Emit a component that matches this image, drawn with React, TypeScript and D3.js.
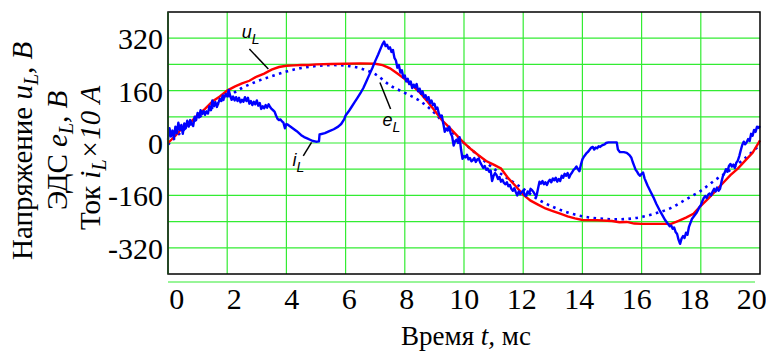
import React from 'react';
import * as d3 from 'd3';

// Time axis, ms
const xTicks = [0, 2, 4, 6, 8, 10, 12, 14, 16, 18, 20];
const yTicks = [-320, -160, 0, 160, 320];
const yGrid = [-320, -240, -160, -80, 0, 80, 160, 240, 320];

// u_L, V (red)
const uTime = [0, 0.25, 0.5, 0.75, 1, 1.25, 1.5, 1.75, 2, 2.25, 2.5, 2.75, 3, 3.25, 3.5, 3.75, 4, 4.25, 4.5, 4.75, 5, 5.5, 6, 6.5, 7, 7.25, 7.5, 7.75, 8, 8.25, 8.5, 8.75, 9, 9.25, 9.5, 9.75, 10, 10.25, 10.5, 10.75, 11, 11.25, 11.5, 11.75, 12, 12.25, 12.5, 12.75, 13, 13.25, 13.5, 13.75, 14, 14.5, 15, 15.25, 15.5, 15.75, 16, 16.5, 17, 17.25, 17.5, 17.75, 18, 18.25, 18.5, 18.75, 19, 19.25, 19.5, 19.75, 20];
const uVal = [0, 22, 48, 62, 85, 104, 127, 142, 160, 172, 182, 190, 203, 212, 224, 232, 236, 237, 238, 238, 240, 241, 242, 243, 242, 238, 228, 212, 195, 176, 155, 128, 100, 70, 48, 24, 0, -20, -38, -55, -66, -78, -108, -132, -158, -176, -188, -200, -208, -216, -224, -230, -235, -236, -238, -242, -241, -246, -247, -247, -247, -238, -228, -216, -192, -170, -146, -122, -98, -78, -54, -30, 8];

// e_L, V (blue dotted)
const eTime = [0, 0.5, 1, 1.5, 2, 2.5, 3, 3.5, 4, 4.5, 5, 5.5, 6, 6.5, 7, 7.5, 8, 8.5, 9, 9.5, 10, 10.5, 11, 11.5, 12, 12.5, 13, 13.5, 14, 14.5, 15, 15.5, 16, 16.5, 17, 17.5, 18, 18.5, 19, 19.5, 20];
const eVal = [-5, 38, 75, 108, 140, 168, 188, 204, 218, 229, 235, 238, 236, 228, 210, 176, 153, 129, 92, 42, 0, -40, -78, -110, -140, -172, -195, -212, -224, -230, -233, -232, -226, -214, -198, -172, -146, -112, -82, -46, -5];

// i_L x10, A (blue)
const iTime = [0, 0.05, 0.1, 0.15, 0.2, 0.25, 0.3, 0.35, 0.4, 0.45, 0.5, 0.55, 0.6, 0.65, 0.7, 0.75, 0.8, 0.85, 0.9, 0.95, 1.0, 1.05, 1.1, 1.15, 1.2, 1.25, 1.3, 1.35, 1.4, 1.45, 1.5, 1.55, 1.6, 1.65, 1.7, 1.75, 1.8, 1.85, 1.9, 1.95, 2.0, 2.05, 2.1, 2.15, 2.2, 2.25, 2.3, 2.35, 2.4, 2.45, 2.5, 2.55, 2.6, 2.65, 2.7, 2.75, 2.8, 2.85, 2.9, 2.95, 3.0, 3.05, 3.1, 3.15, 3.2, 3.25, 3.3, 3.35, 3.4, 3.45, 3.5, 3.55, 3.6, 3.65, 3.7, 3.75, 3.8, 3.85, 3.9, 3.95, 4.0, 4.05, 4.2, 4.35, 4.5, 4.6, 4.7, 4.8, 4.9, 5.0, 5.1, 5.12, 5.3, 5.45, 5.6, 5.75, 5.85, 5.95, 6.0, 6.1, 6.2, 6.3, 6.4, 6.5, 6.6, 6.7, 6.8, 6.9, 7.0, 7.1, 7.2, 7.25, 7.3, 7.35, 7.4, 7.45, 7.5, 7.55, 7.6, 7.65, 7.7, 7.75, 7.8, 7.85, 7.9, 7.95, 8.0, 8.05, 8.1, 8.15, 8.2, 8.25, 8.3, 8.35, 8.4, 8.45, 8.5, 8.55, 8.6, 8.65, 8.7, 8.75, 8.8, 8.85, 8.9, 8.95, 9.0, 9.05, 9.1, 9.15, 9.2, 9.25, 9.3, 9.35, 9.4, 9.45, 9.5, 9.55, 9.6, 9.65, 9.7, 9.75, 9.8, 9.85, 9.9, 9.95, 10.0, 10.05, 10.1, 10.15, 10.2, 10.25, 10.3, 10.35, 10.4, 10.45, 10.5, 10.55, 10.6, 10.65, 10.7, 10.75, 10.8, 10.85, 10.9, 10.95, 11.0, 11.05, 11.1, 11.15, 11.2, 11.25, 11.3, 11.35, 11.4, 11.45, 11.5, 11.55, 11.6, 11.65, 11.7, 11.75, 11.8, 11.85, 11.9, 11.95, 12.0, 12.05, 12.1, 12.15, 12.2, 12.25, 12.3, 12.35, 12.4, 12.45, 12.5, 12.55, 12.6, 12.65, 12.7, 12.75, 12.8, 12.85, 12.9, 12.95, 13.0, 13.05, 13.1, 13.15, 13.2, 13.25, 13.3, 13.35, 13.4, 13.45, 13.5, 13.55, 13.6, 13.65, 13.7, 13.75, 13.8, 13.85, 13.9, 13.95, 14.0, 14.05, 14.1, 14.15, 14.2, 14.25, 14.3, 14.35, 14.4, 14.45, 14.5, 14.55, 14.6, 14.65, 14.7, 14.75, 14.8, 14.88, 15.0, 15.16, 15.2, 15.27, 15.4, 15.5, 15.6, 15.65, 15.7, 15.75, 15.8, 15.85, 15.9, 15.95, 16.0, 16.05, 16.1, 16.2, 16.3, 16.4, 16.5, 16.6, 16.7, 16.8, 16.9, 16.95, 17.0, 17.05, 17.1, 17.15, 17.2, 17.25, 17.3, 17.35, 17.4, 17.45, 17.5, 17.55, 17.6, 17.65, 17.7, 17.75, 17.8, 17.85, 17.9, 17.95, 18.0, 18.05, 18.1, 18.15, 18.2, 18.25, 18.3, 18.35, 18.4, 18.45, 18.5, 18.55, 18.6, 18.65, 18.7, 18.75, 18.8, 18.85, 18.9, 18.95, 19.0, 19.05, 19.1, 19.15, 19.2, 19.25, 19.3, 19.35, 19.4, 19.45, 19.5, 19.55, 19.6, 19.65, 19.7, 19.75, 19.8, 19.85, 19.9, 19.95, 20.0];
const iVal = [10, 45, 20, 38, 15, 50, 30, 62, 40, 55, 28, 60, 45, 68, 50, 70, 58, 52, 80, 70, 92, 78, 100, 88, 98, 86, 96, 90, 112, 100, 130, 112, 125, 110, 122, 135, 128, 145, 138, 150, 142, 162, 145, 132, 142, 130, 140, 128, 138, 124, 132, 126, 140, 128, 138, 120, 128, 116, 126, 118, 130, 114, 122, 104, 112, 106, 116, 108, 118, 110, 104, 100, 96, 84, 74, 70, 72, 66, 62, 45, 58, 56, 46, 36, 24, 18, 14, 10, 6, 4, 5, 26, 30, 36, 42, 50, 58, 72, 84, 96, 110, 124, 138, 152, 168, 188, 208, 228, 250, 270, 292, 302, 310, 296, 300, 288, 292, 278, 284, 260, 252, 230, 238, 215, 222, 200, 206, 188, 196, 180, 188, 168, 178, 170, 180, 158, 166, 150, 158, 140, 146, 132, 140, 122, 130, 116, 120, 104, 108, 90, 80, 84, 60, 34, 44, 38, 50, 30, 20, -8, 6, 10, 0, 18, -20, -48, -40, -44, -36, -50, -46, -56, -52, -46, -58, -50, -48, -60, -68, -76, -70, -82, -78, -88, -84, -116, -100, -92, -98, -110, -104, -118, -112, -122, -126, -120, -132, -128, -140, -146, -138, -150, -160, -148, -156, -150, -145, -158, -162, -148, -154, -140, -144, -150, -158, -162, -140, -118, -124, -116, -126, -120, -128, -118, -112, -120, -108, -114, -106, -118, -110, -116, -100, -106, -94, -100, -92, -106, -96, -90, -82, -78, -72, -80, -86, -66, -50, -42, -36, -30, -26, -20, -14, -12, -20, -14, -16, -10, -12, -8, -6, -4, 0, 2, 2, 2, -20, -28, -28, -30, -38, -44, -58, -70, -82, -88, -96, -100, -94, -90, -108, -130, -148, -166, -186, -204, -220, -236, -248, -254, -252, -262, -258, -272, -278, -296, -308, -292, -284, -290, -274, -280, -256, -244, -232, -226, -220, -214, -206, -196, -190, -178, -168, -162, -168, -158, -154, -160, -148, -140, -148, -136, -146, -140, -118, -100, -92, -80, -88, -70, -64, -72, -66, -76, -60, -54, -40, -22, -6, 4, -4, 2, 12, 6, 28, 22, 40, 34, 50, 46, 52];

// callouts: leader from (t1,v1) to (t2,v2), label at (tl,vl)
const callouts = [
  { name: 'u', t1: 2.75, v1: 287, t2: 3.39, v2: 226, tl: 2.49, vl: 322 },
  { name: 'e', t1: 7.16, v1: 185, t2: 7.52, v2: 104, tl: 7.25, vl: 53 },
  { name: 'i', t1: 4.85, v1: 2, t2: 4.57, v2: -39, tl: 4.21, vl: -69 },
];

const W = 766;
const H = 354;
const left = 168, right = 760, top = 12, bottom = 274;
const grid = '#33ec33';
const serif = '"Liberation Serif", "Times New Roman", serif';
const sans = '"Liberation Sans", Arial, sans-serif';

export default function App() {
  const x = d3.scaleLinear().domain([0, 20]).range([left, right]);
  const y = d3.scaleLinear().domain([-400, 400]).range([bottom, top]);
  // Mathcad spreads the tick numbers a bit narrower than the grid
  const xLab = d3.scaleLinear().domain([0, 20]).range([176.7, 751.7]);

  const line = d3.line<[number, number]>()
    .x((d) => x(d[0]))
    .y((d) => y(d[1]));

  const uPts = uTime.map((t, k) => [t, uVal[k]] as [number, number]);
  const ePts = eTime.map((t, k) => [t, eVal[k]] as [number, number]);
  const iPts = iTime.map((t, k) => [t, iVal[k]] as [number, number]);
  const eLine = d3.line<[number, number]>()
    .x((d) => x(d[0]))
    .y((d) => y(d[1]))
    .curve(d3.curveCatmullRom);

  return (
    <svg width={W} height={H} style={{ position: 'absolute', left: 0, top: 0, background: '#fff' }}>
      {/* grid */}
      {xTicks.slice(1, -1).map((t) => (
        <line key={'gx' + t} x1={x(t)} x2={x(t)} y1={top} y2={bottom} stroke={grid} strokeWidth={1.2} />
      ))}
      {yGrid.map((v) => (
        <line key={'gy' + v} x1={left} x2={right} y1={y(v)} y2={y(v)} stroke={grid} strokeWidth={1.2} />
      ))}
      <line x1={left} x2={755} y1={282} y2={282} stroke={grid} strokeWidth={1.2} />

      {/* series */}
      <path d={eLine(ePts) || ''} fill="none" stroke="#0000ff" strokeWidth={2.6} strokeDasharray="2.6 4.4" />
      <path d={line(uPts) || ''} fill="none" stroke="#ff0000" strokeWidth={2.4} />
      <path d={line(iPts) || ''} fill="none" stroke="#0000ff" strokeWidth={2.4} strokeLinejoin="round" />

      {/* frame */}
      <rect x={left} y={top} width={right - left} height={bottom - top} fill="none" stroke="#000" strokeWidth={1.5} />
      <line x1={left} x2={left} y1={top} y2={bottom} stroke="#204a20" strokeWidth={1.6} />

      {/* callouts */}
      {callouts.map((c) => (
        <g key={c.name}>
          <line x1={x(c.t1)} y1={y(c.v1)} x2={x(c.t2)} y2={y(c.v2)} stroke="#000" strokeWidth={1.5} />
          <text x={x(c.tl)} y={y(c.vl)} fontFamily={sans} fontStyle="italic" fontSize={18} fill="#000">
            {c.name}
            <tspan fontSize={14} dy={6}>L</tspan>
          </text>
        </g>
      ))}

      {/* y tick labels */}
      {yTicks.map((v) => (
        <text key={'yl' + v} x={163} y={y(v) + 11} textAnchor="end" fontFamily={serif} fontSize={30} fill="#000">
          {v}
        </text>
      ))}

      {/* x tick labels */}
      {xTicks.map((t) => (
        <text key={'xl' + t} x={xLab(t)} y={309} textAnchor="middle" fontFamily={serif} fontSize={30} fill="#000">
          {t}
        </text>
      ))}

      {/* axis titles */}
      <text x={466} y={345} textAnchor="middle" fontFamily={serif} fontSize={27} fill="#000">
        Время <tspan fontStyle="italic">t,</tspan> мс
      </text>
      <g fontFamily={serif} fontSize={29} fill="#000">
        <text transform="translate(32,260) rotate(-90)">
          Напряжение <tspan fontStyle="italic">u</tspan>
          <tspan fontStyle="italic" fontSize={20} dy={6}>L</tspan>
          <tspan dy={-6}>, </tspan>
          <tspan fontStyle="italic">В</tspan>
        </text>
        <text transform="translate(67,210) rotate(-90)">
          ЭДС <tspan fontStyle="italic">e</tspan>
          <tspan fontStyle="italic" fontSize={20} dy={6}>L</tspan>
          <tspan dy={-6}>, </tspan>
          <tspan fontStyle="italic">В</tspan>
        </text>
        <text transform="translate(100,230) rotate(-90)">
          Ток <tspan fontStyle="italic">i</tspan>
          <tspan fontStyle="italic" fontSize={20} dy={6}>L</tspan>
          <tspan fontStyle="italic" dy={-6}>×10 А</tspan>
        </text>
      </g>
    </svg>
  );
}
